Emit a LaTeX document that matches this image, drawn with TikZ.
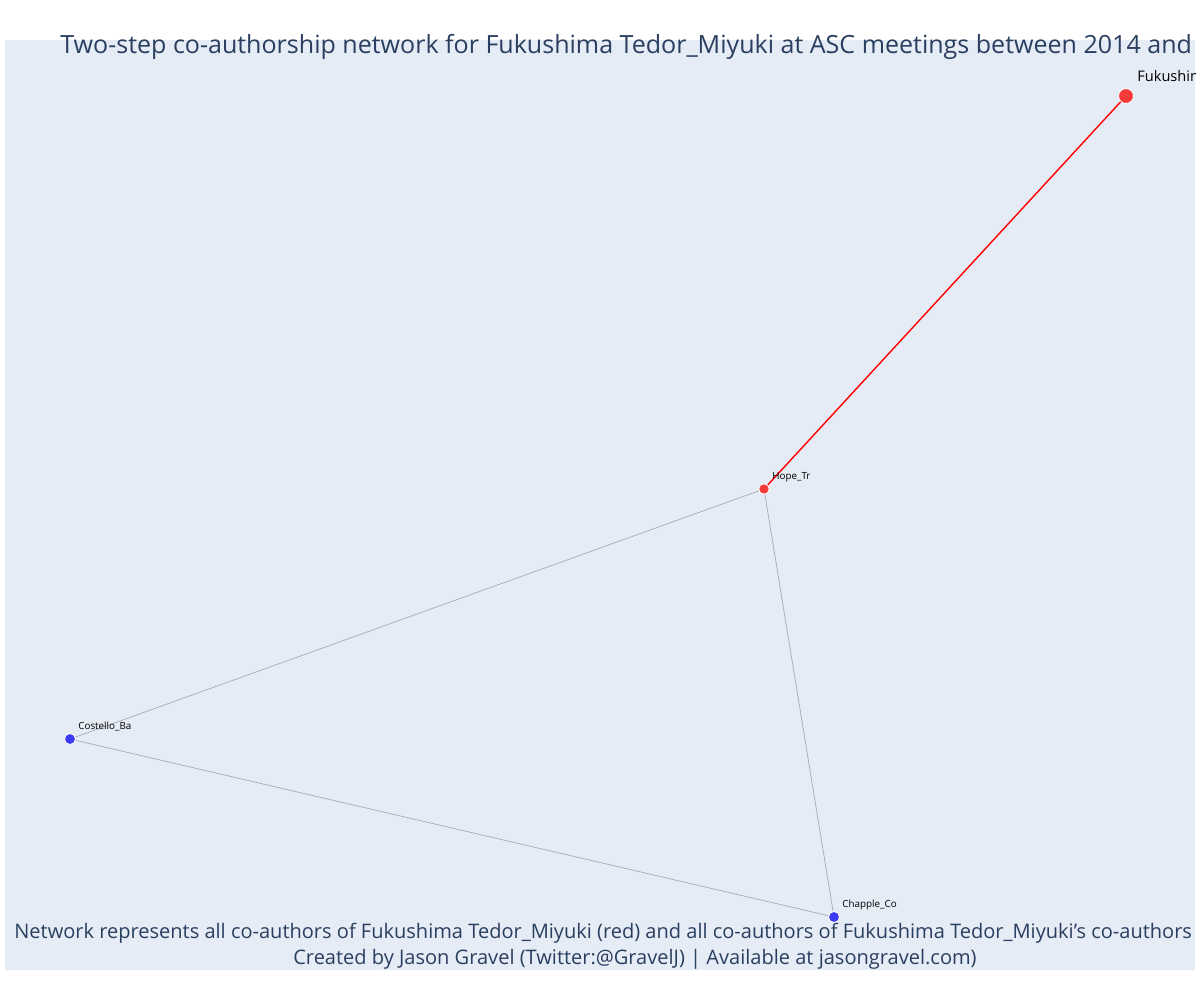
\documentclass[tikz,border=0pt]{standalone}
\usepackage{fontspec}
\setmainfont{Open Sans}[Ligatures=ResetAll]
\usepackage{xcolor}
\usetikzlibrary{positioning}
\definecolor{plotbg}{HTML}{E5ECF6}
\definecolor{titlefg}{HTML}{2A3F5F}
\definecolor{egored}{HTML}{F53A3A}
\definecolor{altblue}{HTML}{3B3BF5}
\definecolor{linkgray}{HTML}{A8A8B8}

\begin{document}
\begin{tikzpicture}[
    x=0.02cm, y=-0.02cm,
    author/.style={circle, draw=white, line width=0.5pt, inner sep=0pt},
    ego/.style={author, fill=egored, minimum size=8.5pt},
    coauth/.style={author, fill=egored, minimum size=6pt},
    second/.style={author, fill=altblue, minimum size=6.3pt},
    tag/.style={anchor=base west, inner sep=0pt, font=\fontsize{5.6pt}{6.5pt}\selectfont},
    egoedge/.style={draw=red, line width=0.8pt},
    coedge/.style={draw=linkgray, line width=0.4pt},
    caption/.style={text=titlefg, inner sep=0pt, font=\fontsize{11.4pt}{13pt}\selectfont}
]
    \useasboundingbox (0,0) rectangle (1200,1000);
    \fill[plotbg] (5,40) rectangle (1195,970);

    \node[caption, anchor=base west, font=\fontsize{14.25pt}{16pt}\selectfont] (title) at (60,54)
        {Two-step co-authorship network for Fukushima Tedor\_Miyuki at ASC meetings between 2014 and};

    % authors
    \node[ego] (fuku) at (1126,96) {};
    \node[coauth] (hope) at (764,489) {};
    \node[second] (costello) at (70,739) {};
    \node[second] (chapple) at (834,917) {};

    % co-authorship links
    \path[egoedge] (fuku) -- (hope);
    \path[coedge] (hope) -- (costello);
    \path[coedge] (hope) -- (chapple);
    \path[coedge] (costello) -- (chapple);

    % names
    \begin{scope}
    \clip (0,0) rectangle (1195,1000);
    \node[tag, font=\fontsize{8.3pt}{9pt}\selectfont] (fukutag) at (1137,82) {Fukushima};
    \end{scope}
    \node[tag] (hopetag) at (772,479) {Hope\_Tr};
    \node[tag] (costellotag) at (78,729) {Costello\_Ba};
    \node[tag] (chappletag) at (842,907) {Chapple\_Co};

    \node[caption, anchor=base west] (note) at (14,938)
        {Network represents all co-authors of Fukushima Tedor\_Miyuki (red) and all co-authors of Fukushima Tedor\_Miyuki's co-authors};
    \node[caption, anchor=base] (credit) at (635,964)
        {Created by Jason Gravel (Twitter:@GravelJ) | Available at jasongravel.com)};
\end{tikzpicture}
\end{document}
